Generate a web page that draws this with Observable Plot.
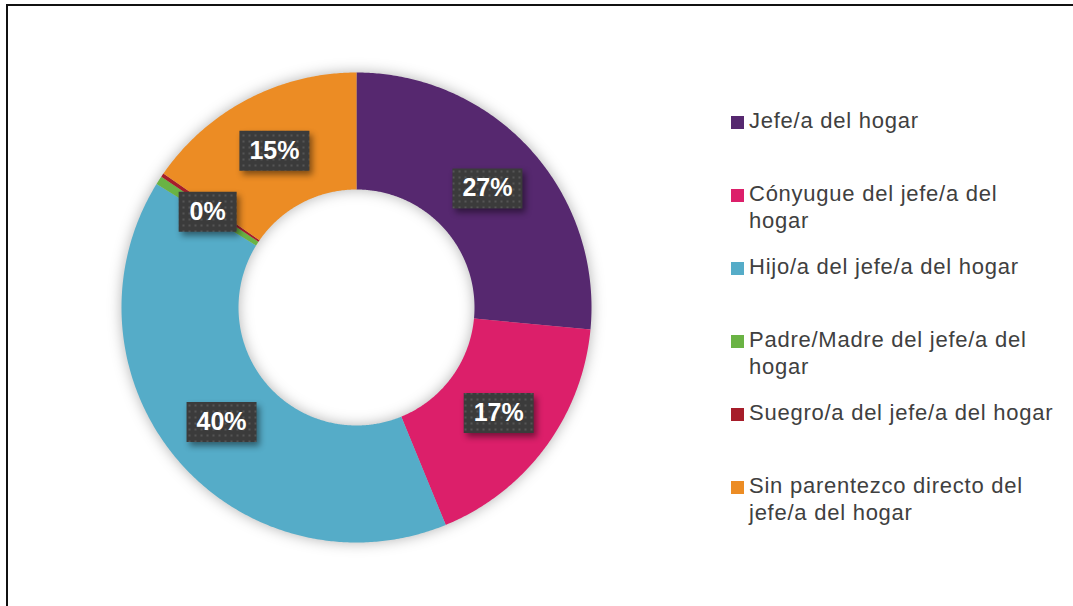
<!DOCTYPE html>
<html><head><meta charset="utf-8">
<script src="https://cdn.jsdelivr.net/npm/d3@7"></script>
<script src="https://cdn.jsdelivr.net/npm/@observablehq/plot@0.6"></script>
<style>
html,body{margin:0;padding:0;background:#fff;width:1073px;height:606px;overflow:hidden;}
#wrap{position:relative;width:1073px;height:606px;overflow:hidden;}
#frame{position:absolute;left:6px;top:4px;width:1200px;height:800px;border:2px solid #111;box-sizing:border-box;}
#chart{position:absolute;left:0;top:0;}
#legend{position:absolute;left:731px;top:107px;font-family:"Liberation Sans",Arial,Helvetica,sans-serif;font-size:22px;letter-spacing:0.75px;color:#404040;}
.item{display:flex;align-items:flex-start;height:73px;}
.sw{width:13px;height:13px;margin-top:9px;margin-right:5px;flex:none;}
.lab{width:312px;line-height:27px;}
</style>
</head><body>
<div id="wrap"><div id="frame"></div><div id="chart"></div><div id="legend"></div></div>
<script>
const categories = [
  "Jefe/a del hogar",
  "Cónyugue del jefe/a del hogar",
  "Hijo/a del jefe/a del hogar",
  "Padre/Madre del jefe/a del hogar",
  "Suegro/a del jefe/a del hogar",
  "Sin parentezco directo del jefe/a del hogar"
];
const values = [26.5, 17.3, 40.0, 0.6, 0.25, 15.35];
const labels = ["27%", "17%", "40%", "0%", "", "15%"];
const colors = ["#56286f", "#dc1f6a", "#55acc8", "#6ab344", "#a61d2a", "#ec8c24"];

const R_OUT = 235, R_IN = 118, R_LAB = 177;
const total = d3.sum(values);
const pt = (r, a) => [r * Math.sin(a), -r * Math.cos(a)];

let acc = 0;
const slices = [], labelData = [];
categories.forEach((c, i) => {
  const a0 = acc / total * 2 * Math.PI;
  acc += values[i];
  const a1 = acc / total * 2 * Math.PI;
  const n = Math.max(2, Math.ceil((a1 - a0) / (Math.PI / 360)));
  const ring = [];
  for (let k = 0; k <= n; k++) ring.push(pt(R_OUT, a0 + (a1 - a0) * k / n));
  for (let k = n; k >= 0; k--) ring.push(pt(R_IN, a0 + (a1 - a0) * k / n));
  ring.push(ring[0]);
  slices.push({type: "Feature", properties: {category: c}, geometry: {type: "Polygon", coordinates: [ring]}});
  if (labels[i]) {
    const [x, y] = pt(R_LAB, (a0 + a1) / 2);
    const w = 34 + 12 * labels[i].length, h = 40;
    labelData.push({
      x, y, label: labels[i],
      type: "Feature",
      geometry: {type: "Polygon", coordinates: [[[x - w/2, y - h/2], [x + w/2, y - h/2], [x + w/2, y + h/2], [x - w/2, y + h/2], [x - w/2, y - h/2]]]}
    });
  }
});

const defs = () => {
  const d = d3.create("svg:defs");
  const p = d.append("pattern").attr("id", "dots").attr("patternUnits", "userSpaceOnUse")
    .attr("width", 6).attr("height", 6);
  p.append("rect").attr("width", 6).attr("height", 6).attr("fill", "#3b3b3b");
  p.append("rect").attr("x", 2).attr("y", 2).attr("width", 2).attr("height", 2).attr("fill", "#555555");
  return d.node();
};

const plot = Plot.plot({
  width: 1073, height: 606,
  marginLeft: 121, marginTop: 72, marginRight: 482, marginBottom: 64,
  projection: {type: "identity", domain: {type: "MultiPoint", coordinates: [[-R_OUT, -R_OUT], [R_OUT, R_OUT]]}},
  color: {domain: categories, range: colors},
  marks: [
    defs,
    Plot.geo(slices, {fill: d => d.properties.category, stroke: "none"}),
    Plot.geo(labelData, {fill: "url(#dots)", stroke: "none"}),
    Plot.text(labelData, {x: "x", y: "y", text: "label", fill: "white", fontSize: 25, fontWeight: "bold",
      fontFamily: "Liberation Sans, Arial, sans-serif"})
  ]
});
const geos = plot.querySelectorAll('g[aria-label="geo"]');
geos[0].style.filter = "drop-shadow(0px 0px 7px rgba(0,0,0,0.30))";
geos[1].style.filter = "drop-shadow(3px 4px 3px rgba(0,0,0,0.45))";
document.getElementById("chart").appendChild(plot);

const legend = d3.select("#legend");
categories.forEach((c, i) => {
  const it = legend.append("div").attr("class", "item");
  it.append("div").attr("class", "sw").style("background", colors[i]);
  it.append("div").attr("class", "lab").text(c);
});
</script>
</body></html>
